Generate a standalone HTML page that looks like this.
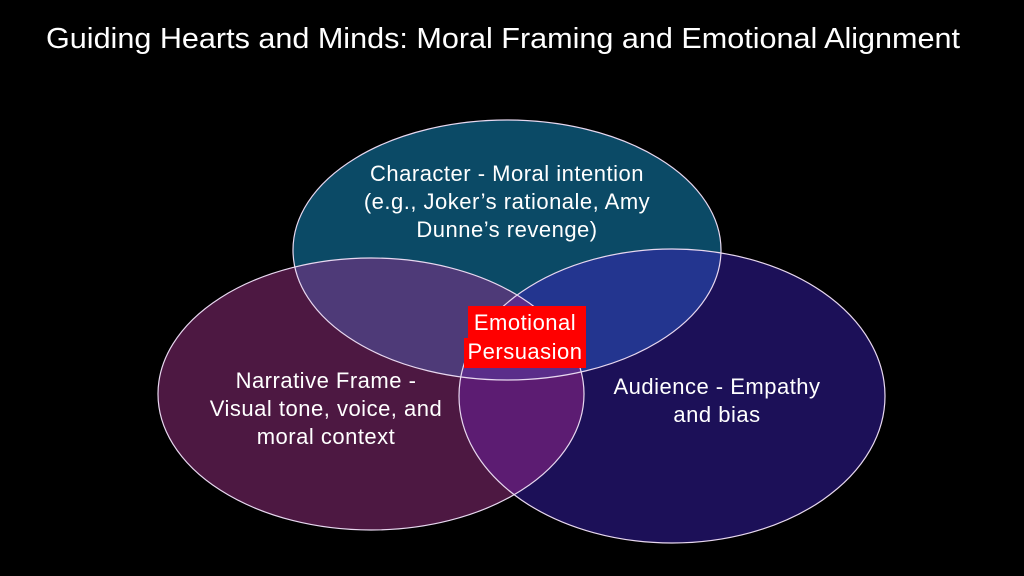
<!DOCTYPE html>
<html><head><style>
html,body{margin:0;padding:0;background:#000;}
svg{display:block}
text{font-family:"Liberation Sans",sans-serif;fill:#fff}
</style></head><body>
<svg width="1024" height="576" viewBox="0 0 1024 576">
<defs>
<ellipse id="T" cx="507" cy="250" rx="214" ry="130"/>
<ellipse id="L" cx="371" cy="394" rx="213" ry="136"/>
<ellipse id="R" cx="672" cy="396" rx="213" ry="147"/>
<clipPath id="cT"><use href="#T"/></clipPath>
<clipPath id="cL"><use href="#L"/></clipPath>
<clipPath id="cR"><use href="#R"/></clipPath>
</defs>
<rect width="1024" height="576" fill="#000"/>
<text x="46" y="48" font-size="29" textLength="914" lengthAdjust="spacingAndGlyphs">Guiding Hearts and Minds: Moral Framing and Emotional Alignment</text>
<use href="#T" fill="#0b4a66"/>
<use href="#L" fill="#4d1842"/>
<use href="#R" fill="#1c1058"/>
<g clip-path="url(#cT)"><use href="#L" fill="#4e3a78"/><use href="#R" fill="#23358f"/></g>
<g clip-path="url(#cL)"><use href="#R" fill="#5c1c72"/></g>
<g clip-path="url(#cT)"><g clip-path="url(#cL)"><use href="#R" fill="#5a2d8a"/></g></g>
<g fill="none" stroke="#e8d8f0" stroke-width="1.2">
<use href="#T"/><use href="#L"/><use href="#R"/>
</g>
<g font-size="22" text-anchor="middle" letter-spacing="0.5">
<text x="507" y="181">Character - Moral intention</text>
<text x="507" y="209">(e.g., Joker’s rationale, Amy</text>
<text x="507" y="237">Dunne’s revenge)</text>
<text x="326" y="388">Narrative Frame -</text>
<text x="326" y="416">Visual tone, voice, and</text>
<text x="326" y="444">moral context</text>
<text x="717" y="394">Audience - Empathy</text>
<text x="717" y="422">and bias</text>
</g>
<rect x="468" y="306" width="118" height="34" fill="#ff0000"/>
<rect x="464" y="338" width="122" height="30" fill="#ff0000"/>
<g font-size="22" text-anchor="middle" letter-spacing="0.5">
<text x="525" y="330">Emotional</text>
<text x="525" y="359">Persuasion</text>
</g>
</svg>
</body></html>
